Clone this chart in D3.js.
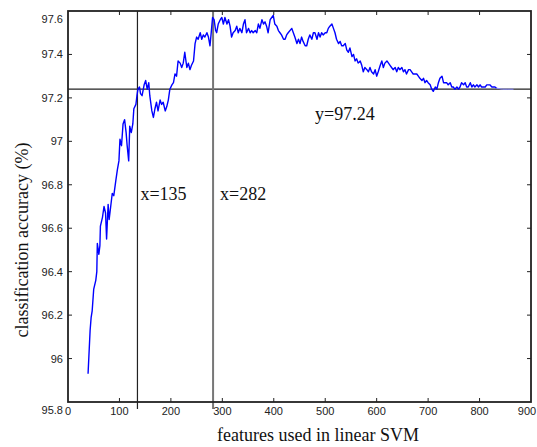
<!DOCTYPE html>
<html>
<head>
<meta charset="utf-8">
<style>
  body { margin: 0; background: #fff; }
  svg { display: block; }
  .tick-label { font-family: Arial, "Liberation Sans", sans-serif; font-size: 11px; fill: #222; }
  .title { font-family: "Times New Roman", "Liberation Serif", serif; font-size: 18px; fill: #111; }
  .note { font-family: "Times New Roman", "Liberation Serif", serif; font-size: 18px; fill: #111; }
</style>
</head>
<body>
<div id="chart"></div>
<script src="https://cdn.jsdelivr.net/npm/d3@7/dist/d3.min.js"></script>
<script>
// data
const features = [
  39, 43, 45, 47, 50, 54, 56, 57, 60, 62, 63, 67, 70, 73, 75, 78, 80, 83, 86, 89,
  93, 96, 99, 101, 104, 107, 110, 113, 115, 118, 120, 123, 126, 128, 132, 134, 136, 139, 141, 144,
  148, 151, 154, 157, 159, 163, 166, 169, 172, 175, 179, 182, 185, 189, 192, 195, 198, 202, 205, 208,
  211, 214, 218, 221, 224, 227, 231, 234, 237, 240, 244, 247, 250, 253, 257, 260, 263, 266, 270, 273,
  276, 278, 281, 284, 287, 289, 292, 296, 299, 302, 305, 309, 312, 315, 318, 321, 325, 328, 331, 334,
  338, 341, 344, 347, 351, 354, 357, 360, 364, 367, 370, 373, 377, 380, 383, 386, 389, 393, 396, 399,
  402, 406, 409, 412, 415, 419, 422, 425, 428, 435, 438, 441, 445, 448, 451, 454, 457, 461, 464, 467,
  470, 474, 477, 480, 484, 487, 490, 493, 496, 500, 503, 506, 509, 513, 516, 519, 522, 526, 529, 532,
  535, 539, 542, 545, 548, 552, 555, 558, 561, 564, 568, 571, 574, 577, 581, 584, 587, 590, 594, 597,
  600, 603, 607, 610, 613, 616, 620, 623, 626, 629, 632, 636, 639, 642, 645, 649, 652, 655, 658, 662,
  665, 668, 671, 675, 678, 681, 684, 688, 691, 694, 697, 700, 704, 707, 710, 714, 717, 720, 723, 727,
  730, 733, 736, 739, 743, 746, 749, 752, 756, 759, 762, 765, 769, 772, 775, 778, 782, 785, 788, 791,
  795, 798, 801, 804, 807, 811, 814, 817, 820, 824, 827, 830, 833, 845, 855, 866
];
const accuracy = [
  95.93, 96.13, 96.19, 96.22, 96.32, 96.36, 96.40, 96.53, 96.48, 96.52, 96.61, 96.65, 96.70, 96.67, 96.55, 96.71, 96.64, 96.70, 96.76, 96.75,
  96.82, 96.87, 96.91, 97.01, 96.98, 97.08, 97.10, 97.04, 96.98, 96.91, 97.07, 97.04, 97.08, 97.15, 97.17, 97.21, 97.24, 97.25, 97.22, 97.21,
  97.26, 97.28, 97.24, 97.27, 97.21, 97.14, 97.11, 97.15, 97.18, 97.14, 97.19, 97.17, 97.18, 97.14, 97.16, 97.19, 97.24, 97.26, 97.27, 97.31,
  97.30, 97.37, 97.36, 97.34, 97.36, 97.41, 97.34, 97.36, 97.33, 97.35, 97.37, 97.45, 97.48, 97.47, 97.50, 97.47, 97.49, 97.48, 97.50, 97.48,
  97.44, 97.49, 97.57, 97.56, 97.51, 97.50, 97.54, 97.56, 97.57, 97.54, 97.57, 97.54, 97.56, 97.53, 97.48, 97.50, 97.51, 97.53, 97.50, 97.52,
  97.50, 97.54, 97.56, 97.50, 97.52, 97.50, 97.51, 97.50, 97.51, 97.50, 97.54, 97.52, 97.56, 97.54, 97.55, 97.53, 97.50, 97.56, 97.57, 97.58,
  97.54, 97.53, 97.51, 97.50, 97.49, 97.47, 97.47, 97.49, 97.50, 97.52, 97.50, 97.48, 97.45, 97.47, 97.45, 97.48, 97.46, 97.44, 97.44, 97.47,
  97.49, 97.47, 97.50, 97.50, 97.47, 97.50, 97.48, 97.50, 97.49, 97.50, 97.50, 97.52, 97.53, 97.54, 97.52, 97.50, 97.47, 97.45, 97.46, 97.44,
  97.44, 97.45, 97.42, 97.41, 97.43, 97.39, 97.40, 97.37, 97.38, 97.36, 97.37, 97.35, 97.32, 97.34, 97.33, 97.32, 97.34, 97.32, 97.31, 97.33,
  97.30, 97.32, 97.35, 97.37, 97.34, 97.36, 97.37, 97.36, 97.35, 97.34, 97.33, 97.34, 97.32, 97.34, 97.33, 97.34, 97.32, 97.33, 97.31, 97.33,
  97.33, 97.32, 97.31, 97.31, 97.31, 97.30, 97.29, 97.28, 97.29, 97.27, 97.28, 97.27, 97.26, 97.24, 97.23, 97.25, 97.24, 97.27, 97.29, 97.30,
  97.27, 97.27, 97.27, 97.26, 97.27, 97.25, 97.25, 97.24, 97.25, 97.24, 97.25, 97.27, 97.26, 97.27, 97.25, 97.25, 97.27, 97.25, 97.26, 97.25,
  97.26, 97.25, 97.26, 97.25, 97.25, 97.25, 97.26, 97.26, 97.26, 97.25, 97.25, 97.25, 97.245, 97.24, 97.24, 97.24
];
const xTicks = [0, 100, 200, 300, 400, 500, 600, 700, 800, 900];
const yTicks = [95.8, 96, 96.2, 96.4, 96.6, 96.8, 97, 97.2, 97.4, 97.6];
const markX = [135, 282];
const markY = 97.24;
const tailStart = 833;

const W = 537, H = 447;
const x = d3.scaleLinear().domain([0, 900]).range([68, 531]);
const y = d3.scaleLinear().domain([95.8, 97.6]).range([402, 11]);

const svg = d3.select('#chart').append('svg')
  .attr('width', W)
  .attr('height', H);

const pts = features.map((f, i) => ({f: f, a: accuracy[i]}));

// reference lines
svg.append('line')
  .attr('x1', x(0)).attr('x2', x(900))
  .attr('y1', y(markY)).attr('y2', y(markY))
  .attr('stroke', '#222').attr('stroke-width', 1.3);

svg.selectAll('.vline')
  .data(markX)
  .enter().append('line')
  .attr('class', 'vline')
  .attr('x1', d => x(d)).attr('x2', d => x(d))
  .attr('y1', y(97.6)).attr('y2', y(95.8) + 7)
  .attr('stroke', (d, i) => i === 0 ? '#222' : '#777')
  .attr('stroke-width', (d, i) => i === 0 ? 1.2 : 2);

// the curve
const line = d3.line().x(d => x(d.f)).y(d => y(d.a));
svg.append('path')
  .datum(pts.filter(d => d.f <= tailStart))
  .attr('d', line)
  .attr('fill', 'none')
  .attr('stroke', '#0000ff')
  .attr('stroke-width', 1.4)
  .attr('stroke-linejoin', 'round');
svg.append('path')
  .datum(pts.filter(d => d.f >= tailStart))
  .attr('d', line)
  .attr('fill', 'none')
  .attr('stroke', '#8c8cff')
  .attr('stroke-width', 1);

// box and inward ticks
svg.append('rect')
  .attr('x', x(0)).attr('y', y(97.6))
  .attr('width', x(900) - x(0)).attr('height', y(95.8) - y(97.6))
  .attr('fill', 'none').attr('stroke', '#222').attr('stroke-width', 1.8);

const tk = 4;
xTicks.slice(1, -1).forEach(t => {
  svg.append('line').attr('x1', x(t)).attr('x2', x(t)).attr('y1', y(95.8)).attr('y2', y(95.8) - tk).attr('stroke', '#222');
  svg.append('line').attr('x1', x(t)).attr('x2', x(t)).attr('y1', y(97.6)).attr('y2', y(97.6) + tk).attr('stroke', '#222');
});
yTicks.slice(1, -1).forEach(t => {
  svg.append('line').attr('x1', x(0)).attr('x2', x(0) + tk).attr('y1', y(t)).attr('y2', y(t)).attr('stroke', '#222');
  svg.append('line').attr('x1', x(900)).attr('x2', x(900) - tk).attr('y1', y(t)).attr('y2', y(t)).attr('stroke', '#222');
});

// tick labels
svg.selectAll('.xl')
  .data(xTicks)
  .enter().append('text')
  .attr('class', 'tick-label')
  .attr('x', (d, i) => i === xTicks.length - 1 ? x(d) - 4 : x(d))
  .attr('y', 415)
  .attr('text-anchor', 'middle')
  .text(d => d);

svg.selectAll('.yl')
  .data(yTicks)
  .enter().append('text')
  .attr('class', 'tick-label')
  .attr('x', 63)
  .attr('y', (d, i) => y(d) + 4 + (i === 0 || i === yTicks.length - 1 ? 8 : 0))
  .attr('text-anchor', 'end')
  .text(d => d);

// titles and notes
svg.append('text')
  .attr('class', 'title')
  .attr('transform', 'translate(28,240) rotate(-90)')
  .attr('text-anchor', 'middle')
  .text('classification accuracy (%)');

svg.append('text')
  .attr('class', 'title')
  .attr('x', 318).attr('y', 441)
  .attr('text-anchor', 'middle')
  .text('features used in linear SVM');

svg.append('text').attr('class', 'note').attr('x', x(markX[0]) + 3).attr('y', 200).text('x=' + markX[0]);
svg.append('text').attr('class', 'note').attr('x', x(markX[1]) + 7).attr('y', 200).text('x=' + markX[1]);
svg.append('text').attr('class', 'note').attr('x', 315).attr('y', 120).text('y=' + markY);
</script>
</body>
</html>
